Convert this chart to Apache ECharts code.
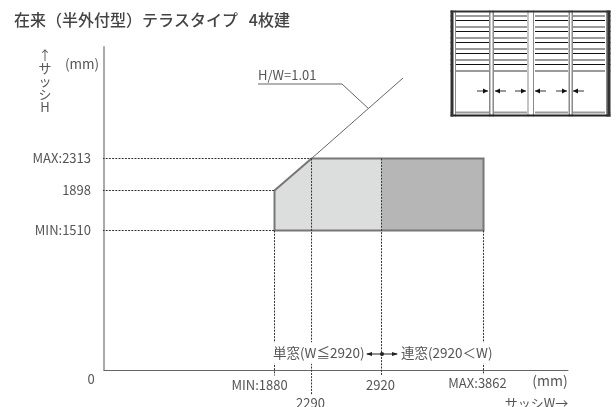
<!DOCTYPE html>
<html><head><meta charset="utf-8">
<style>html,body{margin:0;padding:0;background:#fff}#c{width:616px;height:407px}</style>
<script src="https://cdn.jsdelivr.net/npm/echarts@6/dist/echarts.min.js"></script></head>
<body><div id="c"></div>
<script>
// Sash width / height values printed on the chart, and where the (not-to-scale) diagram places them
const widthLabels = ['MIN:1880', '2290', '2920', 'MAX:3862'];
const widthPlaced = [1617, 1968, 2631.5, 3599];
const heightLabels = ['MIN:1510', '1898', 'MAX:2313'];
const heightPlaced = [1507, 1939.5, 2285];
const ratioLineEnd = [2835, 3154];
const ratioUnderline = [[1460, 3090], [2257, 3090]];
const ratioPointer = [[2257, 3090], [2503, 2830]];
const dropEnds = [-60, -270, -60, -50];
const guideStart = -75;
const FONT = '"Noto Sans CJK JP","Noto Sans",sans-serif';
const TXT = '#555';
const DASH = '#333';
const widthLabelOffsets = [[-15,8.5],[-1,26.5],[-1,8.5],[-6,6.5]];

const [wMin, w2290, w2920, wMax] = widthPlaced;
const [hMin, h1898, hMax] = heightPlaced;
const dashed = (name, data) => ({type:'line', name, data, clip:false, silent:true, symbol:'none', z:4,
  lineStyle:{color:DASH, width:1, type:[2,1.2]}});
const solid = (name, data, color, width, z) => ({type:'line', name, data, clip:false, silent:true, symbol:'none', z,
  lineStyle:{color, width}});
const polygon = (name, pts, style, z) => ({type:'custom', name, silent:true, z, clip:false, data:pts,
  renderItem(p, api){
    if(p.dataIndex) return;
    return {type:'polygon', shape:{points:pts.map(d=>api.coord(d))}, style};
  }});

const series = [
  polygon('単窓', [[wMin,hMin],[wMin,h1898],[w2290,hMax],[w2920,hMax],[w2920,hMin]], {fill:'#dcdedd'}, 2),
  polygon('連窓', [[w2920,hMin],[w2920,hMax],[wMax,hMax],[wMax,hMin]], {fill:'#b5b6b5'}, 2),
  polygon('outline', [[wMin,hMin],[wMin,h1898],[w2290,hMax],[wMax,hMax],[wMax,hMin]], {fill:'none', stroke:'#777', lineWidth:2}, 3)
];
heightPlaced.forEach((h,i)=>{
  series.push(dashed('h'+i, [[guideStart,h],[i<2 ? wMin : w2290,h]]));
});
widthPlaced.forEach((w,i)=>{
  series.push(dashed('w'+i, [[w,(i===1||i===2)?hMax:hMin],[w,dropEnds[i]]]));
});
series.push(solid('H/W', [[w2290,hMax], ratioLineEnd], '#666', 1, 5));
series.push(solid('underline', ratioUnderline, '#999', 1.5, 5));
series.push(solid('pointer', ratioPointer, '#666', 1, 5));
// x-axis value labels (staggered, so drawn as labels of points on the axis)
series.push({type:'scatter', name:'widthLabels', symbolSize:0, silent:true, clip:false, z:6,
  itemStyle:{opacity:1},
  data:widthPlaced.map((w,i)=>({value:[w,0], label:{offset:widthLabelOffsets[i], formatter:widthLabels[i]}})),
  label:{show:true, opacity:1, position:'bottom', distance:0, fontFamily:FONT, fontSize:13, color:TXT}});

// Inset window drawing (four sliding sashes)
const inset = [];
const ix0=450.5, ix1=610.5, iy0=10.5, iy1=116.5;
const R=(x,y,w,h,fill)=>inset.push({type:'rect', shape:{x,y,width:w,height:h}, style:{fill}, silent:true});
[15,26,37,48,59,70].forEach(y=>R(ix0,y,ix1-ix0,2,'#9a9a9a'));
[20,31,42,53,64].forEach(y=>R(ix0,y,ix1-ix0,1,'#111'));
R(ix0,iy1-5,ix1-ix0,2,'#9a9a9a');
[[453,3],[489,5],[527,8],[568,5],[605,3]].forEach(([x,w])=>R(x,iy0,w,iy1-iy0,'#fff'));
[[455,1],[489,1.5],[492.5,1.5],[527.5,1],[533,1],[568.5,1.5],[571.5,1.5],[606,2]].forEach(([x,w])=>R(x,iy0,w,iy1-iy0,'#8a8a8a'));
R(ix0,iy0,ix1-ix0,2,'#333'); R(ix0,iy1-2,ix1-ix0,2,'#222');
R(ix0,iy0,3,iy1-iy0,'#333'); R(ix1-3,iy0,3,iy1-iy0,'#333');
const arrow=(x1,x2,y)=>{
  inset.push({type:'line', shape:{x1,y1:y,x2,y2:y}, style:{stroke:'#777',lineWidth:1.5}, silent:true});
  const d = x2>x1?-1:1;
  inset.push({type:'polygon', shape:{points:[[x2,y],[x2+d*5,y-2.5],[x2+d*5,y+2.5]]}, style:{fill:'#111'}, silent:true});
};
arrow(477,488,91); arrow(506,495,91); arrow(515,526,91); arrow(546,535,91); arrow(556,567,91); arrow(584,573,91);

const gtext=(text,x,y,o={})=>({type:'text', x, y, silent:true, z:10,
  style:{text, fill:TXT, font:(o.weight||'400')+' '+(o.size||13)+'px '+FONT, textAlign:o.align||'left', textVerticalAlign:'middle', lineHeight:o.lh, backgroundColor:o.bg, padding:o.pad}});

const chart = echarts.init(document.getElementById('c'), null, {renderer:'canvas'});
chart.setOption({
  animation:false, backgroundColor:'#fff',
  title:{text:'在来（半外付型）テラスタイプ   4枚建', left:14, top:12, padding:0,
    textStyle:{fontFamily:FONT, fontSize:16, fontWeight:500, color:'#444'}},
  grid:{left:104, right:48, top:47, bottom:37, outerBoundsMode:'none'},
  xAxis:{type:'value', min:0, max:4400, splitLine:{show:false},
    axisLine:{show:true, onZero:false, lineStyle:{color:'#666', width:1}}, axisTick:{show:false},
    axisLabel:{show:false}},
  yAxis:{type:'value', min:0, max:3490, splitLine:{show:false},
    axisLine:{show:true, onZero:false, lineStyle:{color:'#aaa', width:2}}, axisTick:{show:false},
    axisLabel:{show:true, customValues:heightPlaced, margin:13, fontFamily:FONT, fontSize:13, color:TXT, hideOverlap:false, showMinLabel:true, showMaxLabel:true,
      formatter:v=>heightLabels[heightPlaced.indexOf(v)]}},
  series,
  graphic:{elements:[
    ...inset,
    gtext('↑\nサ\nッ\nシ\nH',45,81,{align:'center',lh:13}),
    gtext('(mm)',82,64,{align:'center',size:13.5}),
    gtext('0',91,379,{align:'center'}),
    gtext('(mm)',550,381,{align:'center',size:14}),
    gtext('サッシW→',536.5,403,{align:'center',size:13}),
    gtext('H/W=1.01',258,75,{}),
    gtext('単窓(W≦2920)',273,353,{bg:'#fff',pad:[4,0],size:13.5}),
    gtext('連窓(2920＜W)',401,353,{bg:'#fff',pad:[4,0],size:13.5}),
    {type:'line', shape:{x1:367,y1:354,x2:397,y2:354}, style:{stroke:'#222',lineWidth:1}, silent:true, z:11},
    {type:'polygon', shape:{points:[[366,354],[372,352],[372,356]]}, style:{fill:'#222'}, silent:true, z:11},
    {type:'polygon', shape:{points:[[398,354],[392,352],[392,356]]}, style:{fill:'#222'}, silent:true, z:11},
    {type:'circle', shape:{cx:382,cy:354,r:2}, style:{fill:'#222'}, silent:true, z:11}
  ]}
});
</script></body></html>
